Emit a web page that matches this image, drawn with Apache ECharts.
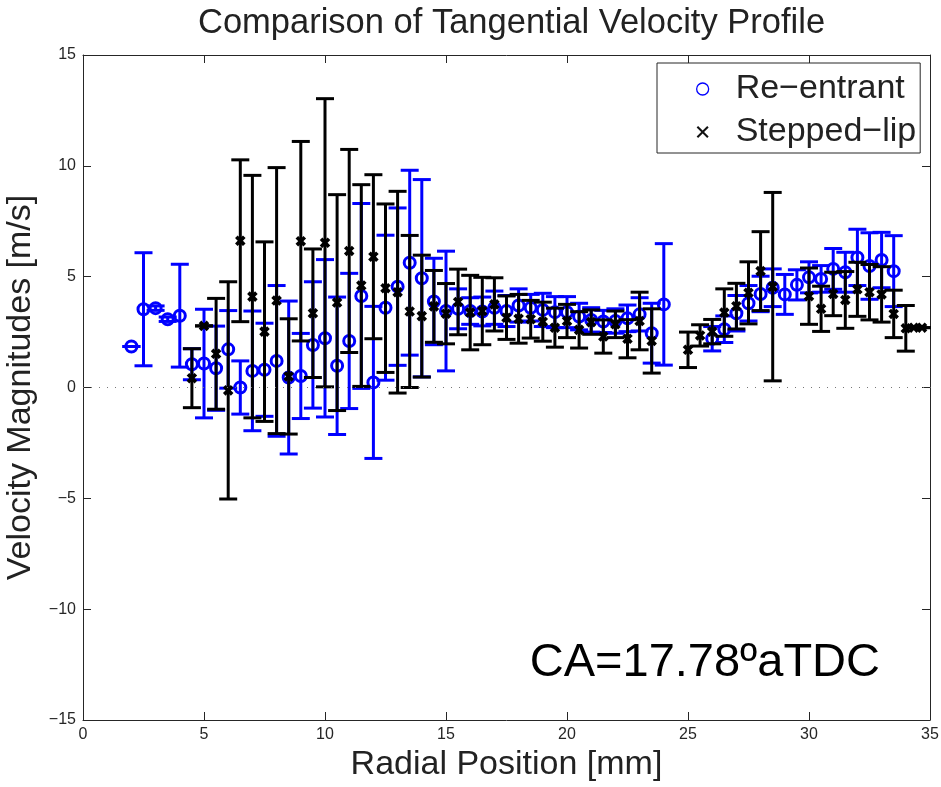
<!DOCTYPE html>
<html>
<head>
<meta charset="utf-8">
<script src="https://cdn.jsdelivr.net/npm/echarts@6/dist/echarts.min.js"></script>
<style>html,body{margin:0;padding:0;background:#fff}#c{width:941px;height:787px}</style>
</head>
<body>
<div id="c"></div>
<script>
// ---- Data ----
const reX   = [2, 2.5, 3, 3.5, 4, 4.5, 5, 5.5, 6, 6.5, 7, 7.5, 8, 8.5, 9, 9.5, 10, 10.5, 11, 11.5, 12, 12.5, 13, 13.5, 14, 14.5, 15, 15.5, 16, 16.5, 17, 17.5, 18, 18.5, 19, 19.5, 20, 20.5, 21, 21.5, 22, 22.5, 23, 23.5, 24, 26, 26.5, 27, 27.5, 28, 28.5, 29, 29.5, 30, 30.5, 31, 31.5, 32, 32.5, 33, 33.5];
const reY   = [1.85, 3.53, 3.58, 3.08, 3.24, 1.05, 1.08, 0.87, 1.72, 0.0, 0.75, 0.8, 1.2, 0.45, 0.52, 1.92, 2.22, 0.98, 2.1, 4.13, 0.23, 3.6, 4.55, 5.63, 4.93, 3.88, 3.45, 3.55, 3.45, 3.43, 3.6, 3.45, 3.7, 3.6, 3.5, 3.4, 3.4, 3.2, 3.05, 2.98, 3.0, 3.12, 3.3, 2.45, 3.75, 2.2, 2.63, 3.35, 3.8, 4.22, 4.5, 4.2, 4.63, 4.97, 4.9, 5.35, 5.2, 5.87, 5.48, 5.75, 5.25];
const reErr = [0, 2.55, 0.1, 0.1, 2.32, 0.7, 2.45, 1.9, 1.75, 1.2, 2.7, 2.1, 3.4, 3.45, 1.92, 2.85, 3.55, 3.1, 3.05, 4.17, 3.43, 3.27, 3.55, 4.17, 4.45, 1.95, 2.7, 0.9, 0.6, 0.65, 0.75, 0.7, 0.75, 0.6, 0.75, 0.7, 0.7, 0.6, 0.55, 0.5, 0.55, 0.6, 0.75, 1.35, 2.74, 0.55, 0.6, 0.8, 0.8, 0.8, 0.85, 0.9, 0.68, 0.7, 0.6, 0.92, 0.9, 1.27, 1.5, 1.25, 1.6];

const slX   = [4.5, 5, 5.5, 6, 6.5, 7, 7.5, 8, 8.5, 9, 9.5, 10, 10.5, 11, 11.5, 12, 12.5, 13, 13.5, 14, 14.5, 15, 15.5, 16, 16.5, 17, 17.5, 18, 18.5, 19, 19.5, 20, 20.5, 21, 21.5, 22, 22.5, 23, 23.5, 25, 25.5, 26, 26.5, 27, 27.5, 28, 28.5, 30, 30.5, 31, 31.5, 32, 32.5, 33, 33.5, 34, 34.33, 34.67];
const slY   = [0.42, 2.78, 1.52, -0.13, 6.62, 4.1, 2.52, 3.92, 0.5, 6.6, 3.35, 6.53, 3.83, 6.16, 4.6, 5.9, 4.48, 4.3, 3.43, 3.22, 3.66, 3.33, 3.86, 3.38, 3.45, 3.75, 3.15, 3.1, 3.08, 2.97, 2.7, 3.0, 2.6, 2.95, 2.3, 2.85, 2.2, 3.0, 2.1, 1.7, 2.35, 2.52, 3.38, 3.67, 4.27, 5.25, 4.55, 4.12, 3.55, 4.22, 3.95, 4.43, 4.3, 4.2, 3.32, 2.67, 2.7, 2.7];
const slErr = [1.33, 0, 2.5, 4.9, 3.65, 5.47, 4.05, 6.0, 2.6, 4.5, 2.9, 6.5, 4.87, 4.58, 4.55, 3.7, 3.8, 4.55, 3.43, 2.75, 1.62, 1.36, 1.48, 1.68, 1.52, 1.2, 0.98, 1.1, 0.85, 0.88, 0.88, 0.75, 0.82, 0.55, 0.75, 0.6, 0.86, 1.3, 1.45, 0.8, 0.48, 0.55, 1.07, 1.03, 1.4, 1.78, 4.25, 1.27, 1.02, 0.98, 1.28, 1.22, 1.25, 1.25, 1.07, 1.03, 0, 0];

const seriesNames = ['Re\u2212entrant', 'Stepped\u2212lip'];
const titleText = 'Comparison of Tangential Velocity Profile';
const xName = 'Radial Position [mm]';
const yName = 'Velocity Magnitudes [m/s]';
const annotation = 'CA=17.78\u00BAaTDC';

// ---- Styling ----
const FONT = '"Liberation Sans", Arial, Helvetica, sans-serif';
const BLUE = '#0000ff';
const BLACK = '#000000';
const AXC = '#262626';
const XPATH = 'path://M0,1.2 L1.2,0 L5,3.8 L8.8,0 L10,1.2 L6.2,5 L10,8.8 L8.8,10 L5,6.2 L1.2,10 L0,8.8 L3.8,5 Z';

function errData(xs, ys, es) {
  return xs.map((x, i) => [x, ys[i] - es[i], ys[i] + es[i]]);
}
function ptData(xs, ys) {
  return xs.map((x, i) => [x, ys[i]]);
}
function errRender(color) {
  return function (params, api) {
    const x = api.value(0), lo = api.value(1), hi = api.value(2);
    const a = api.coord([x, lo]), b = api.coord([x, hi]);
    const hw = 9;
    const st = { stroke: color, lineWidth: 3, fill: null };
    return {
      type: 'group',
      children: [
        { type: 'line', shape: { x1: a[0], y1: a[1], x2: b[0], y2: b[1] }, style: st },
        { type: 'line', shape: { x1: a[0] - hw, y1: a[1], x2: a[0] + hw, y2: a[1] }, style: st },
        { type: 'line', shape: { x1: b[0] - hw, y1: b[1], x2: b[0] + hw, y2: b[1] }, style: st }
      ]
    };
  };
}
const minusFmt = v => (v < 0 ? '\u2212' + Math.abs(v) : String(v));

const axisCommon = {
  type: 'value',
  axisLine: { show: true, onZero: false, lineStyle: { color: AXC, width: 1 } },
  axisTick: { show: true, inside: true, length: 8, lineStyle: { color: AXC, width: 1 } },
  splitLine: { show: false },
  minorTick: { show: false }
};

const chart = echarts.init(document.getElementById('c'), null, { renderer: 'canvas' });
chart.setOption({
  backgroundColor: '#fff',
  animation: false,
  title: {
    text: titleText,
    left: 198, top: 6, padding: 0,
    textStyle: { fontFamily: FONT, fontSize: 34.5, fontWeight: 'normal', color: '#222' }
  },
  grid: { left: 83, right: 11, top: 55, bottom: 67, containLabel: false, outerBoundsMode: 'none' },
  legend: {
    orient: 'vertical',
    left: 657, top: 63,
    padding: [7, 4, 2, 39],
    borderColor: AXC, borderWidth: 1, backgroundColor: '#fff',
    itemWidth: 56, itemHeight: 12, itemGap: 5,
    selectedMode: false,
    textStyle: { fontFamily: FONT, fontSize: 34, color: '#222', lineHeight: 38 },
    data: [
      { name: seriesNames[0], icon: 'circle', itemStyle: { color: '#fff', borderColor: BLUE, borderWidth: 1.3 } },
      { name: seriesNames[1], icon: XPATH, itemStyle: { color: '#111', borderColor: '#111', borderWidth: 0 } }
    ]
  },
  xAxis: [
    Object.assign({}, axisCommon, {
      position: 'bottom', min: 0, max: 35, interval: 5,
      axisLabel: { fontFamily: FONT, fontSize: 16, color: AXC, margin: 7, formatter: minusFmt },
      name: xName, nameLocation: 'middle', nameGap: 25,
      nameTextStyle: { fontFamily: FONT, fontSize: 34, color: '#222', verticalAlign: 'top' }
    }),
    Object.assign({}, axisCommon, {
      position: 'top', min: 0, max: 35, interval: 5, axisLabel: { show: false }
    })
  ],
  yAxis: [
    Object.assign({}, axisCommon, {
      position: 'left', min: -15, max: 15, interval: 5,
      axisLabel: { fontFamily: FONT, fontSize: 16, color: AXC, margin: 7, formatter: minusFmt },
      name: yName, nameLocation: 'middle', nameGap: 35, nameRotate: 90,
      nameTextStyle: { fontFamily: FONT, fontSize: 34, color: '#222' }
    }),
    Object.assign({}, axisCommon, {
      position: 'right', min: -15, max: 15, interval: 5, axisLabel: { show: false }
    })
  ],
  graphic: [
    {
      type: 'text', x: 880, y: 663, z: 100,
      style: { text: annotation, fontFamily: FONT, fontSize: 47, fill: '#000', align: 'right', verticalAlign: 'middle' }
    }
  ],
  series: [
    {
      name: 'reErr', type: 'custom', z: 1,
      data: errData(reX, reY, reErr),
      encode: { x: 0, y: [1, 2] },
      renderItem: errRender(BLUE),
      silent: true,
      markLine: {
        silent: true, symbol: 'none', animation: false,
        label: { show: false },
        lineStyle: { type: [1, 7], color: '#777', width: 1 },
        data: [{ yAxis: 0 }]
      }
    },
    {
      name: seriesNames[0], type: 'scatter', z: 2,
      data: ptData(reX, reY),
      symbol: 'circle', symbolSize: 11,
      itemStyle: { color: 'rgba(0,0,0,0)', borderColor: BLUE, borderWidth: 3, opacity: 1 },
      silent: true
    },
    {
      name: 'slErr', type: 'custom', z: 3,
      data: errData(slX, slY, slErr),
      encode: { x: 0, y: [1, 2] },
      renderItem: errRender(BLACK),
      silent: true
    },
    {
      name: seriesNames[1], type: 'scatter', z: 4,
      data: ptData(slX, slY),
      symbol: XPATH, symbolSize: 7,
      itemStyle: { color: BLACK, borderColor: BLACK, borderWidth: 2.5, opacity: 1 },
      silent: true
    }
  ]
});
</script>
</body>
</html>
